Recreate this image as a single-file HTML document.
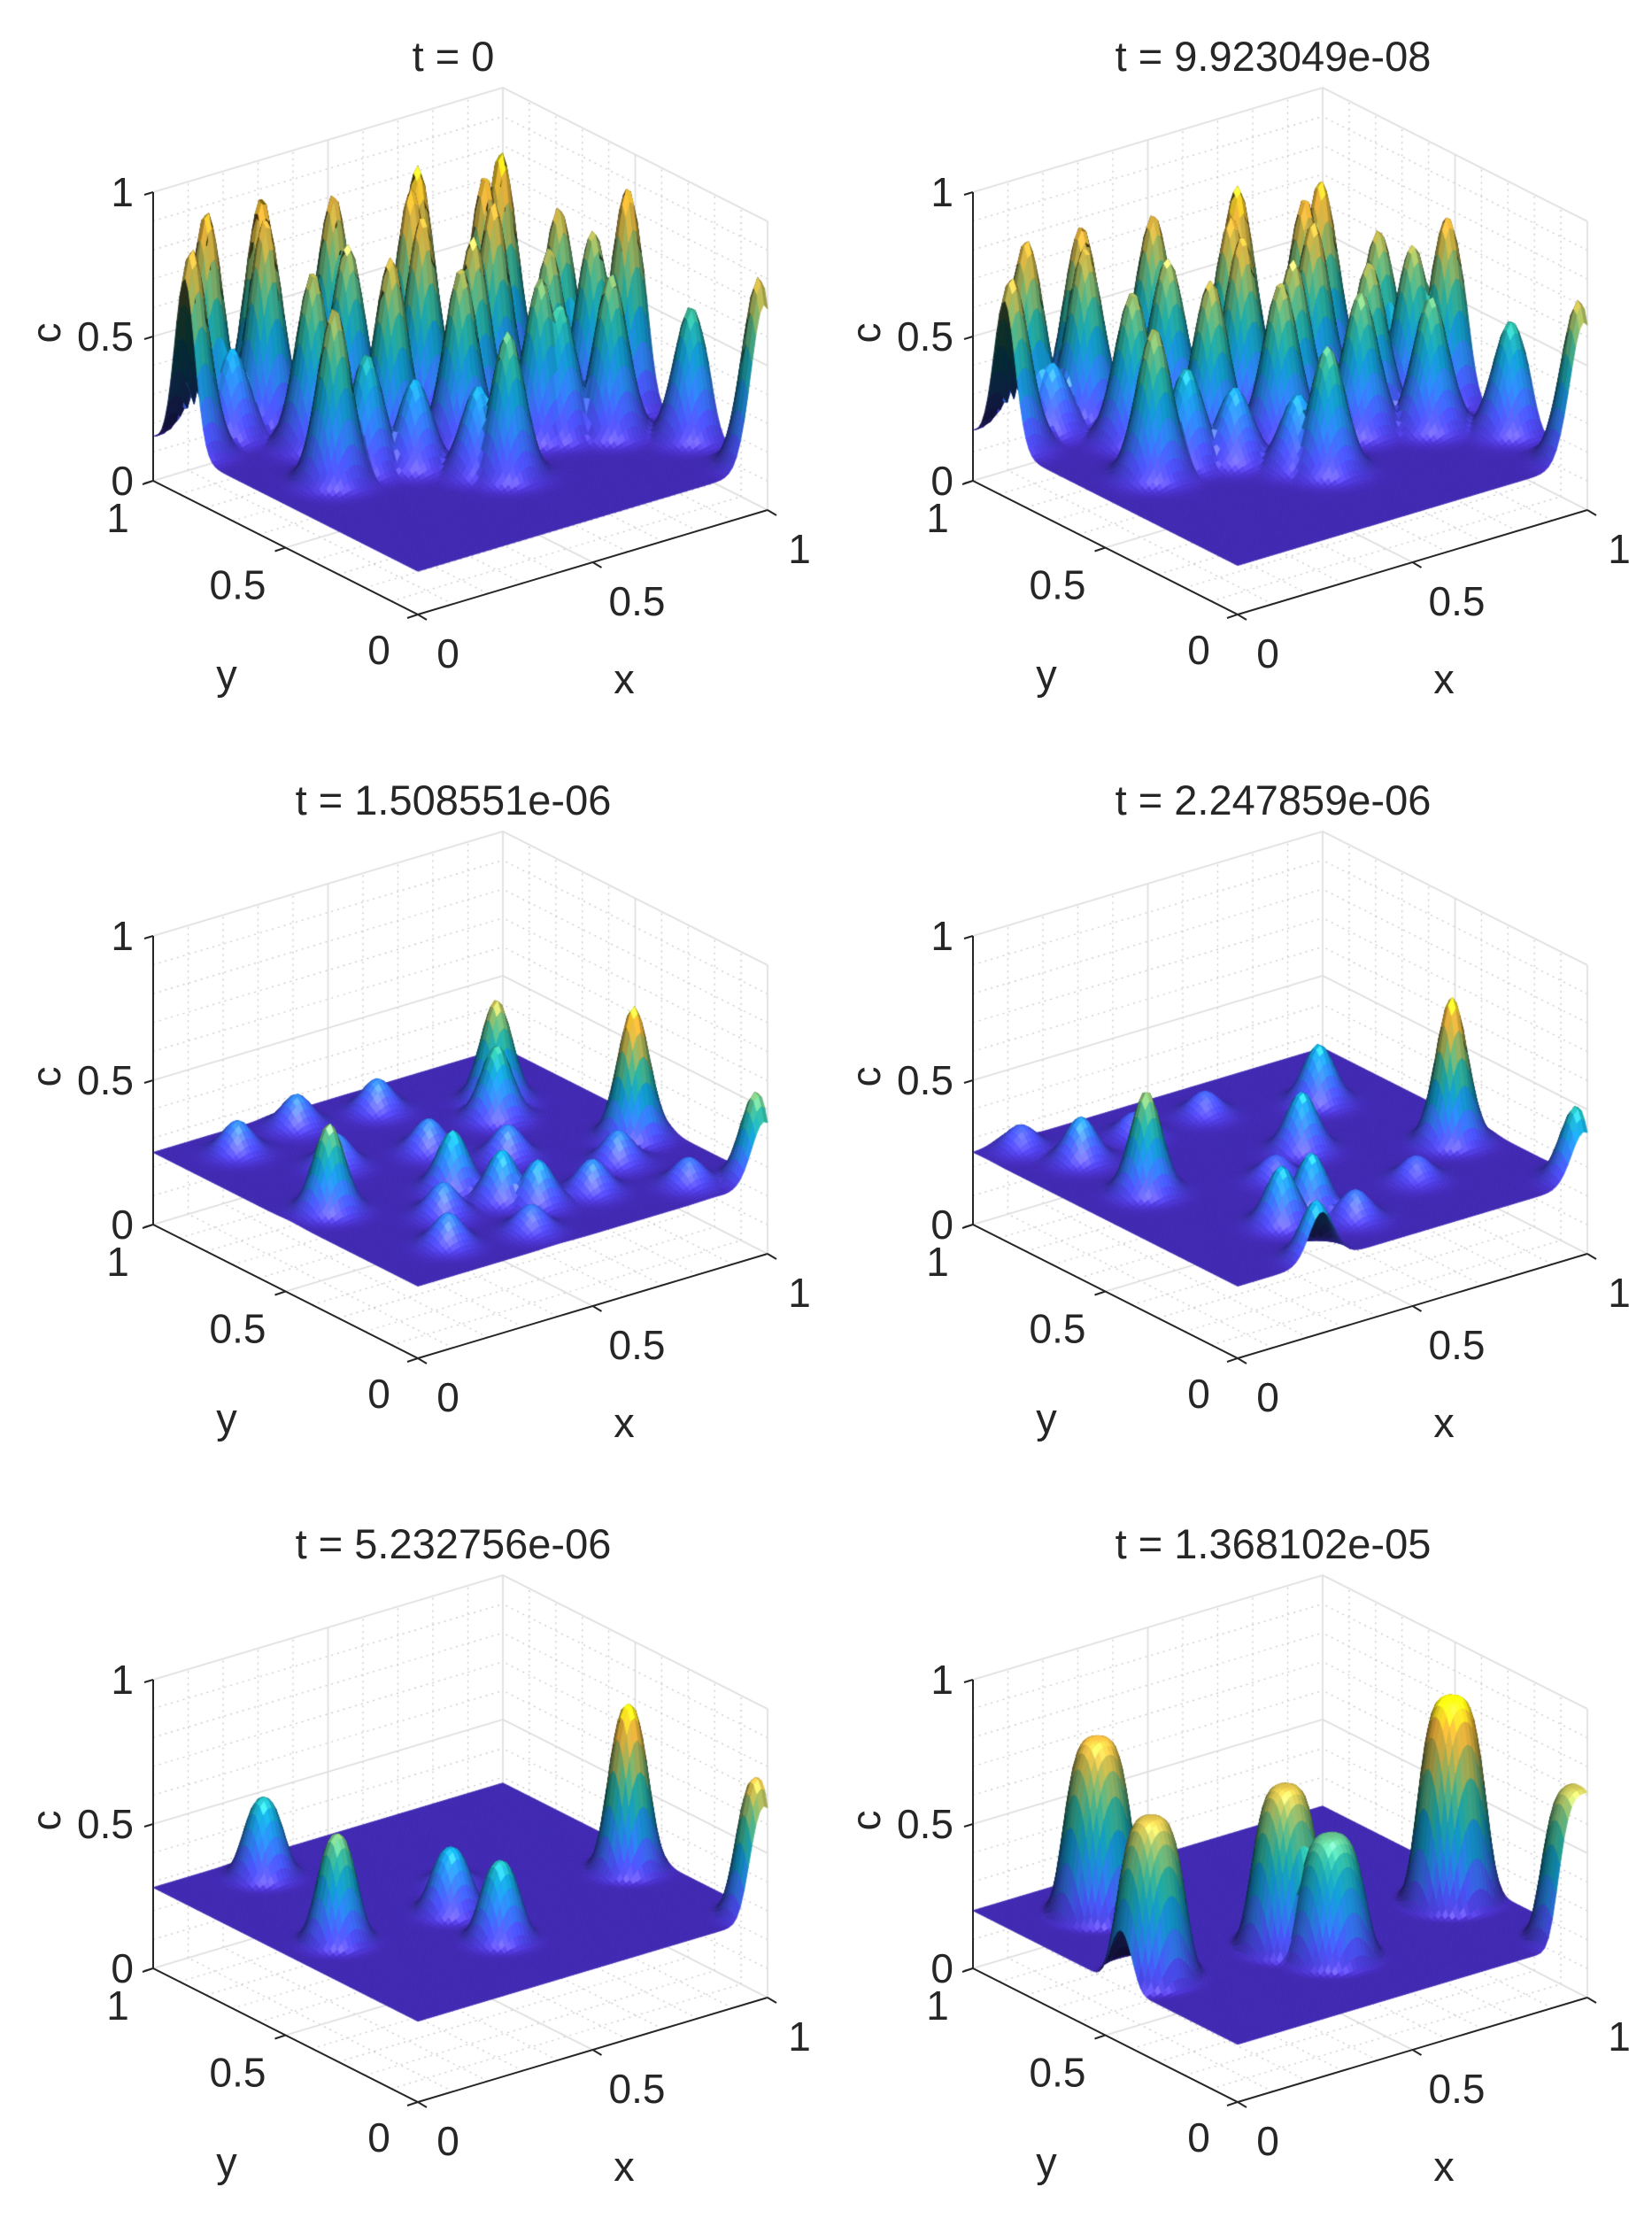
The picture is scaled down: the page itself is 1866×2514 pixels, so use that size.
<!DOCTYPE html>
<html><head><meta charset="utf-8">
<style>
html,body{margin:0;padding:0;background:#fff;}
#wrap{position:relative;width:1866px;height:2514px;overflow:hidden;}
canvas{position:absolute;left:0;top:0;}
svg{position:absolute;left:0;top:0;}
text{font-family:"Liberation Sans",sans-serif;fill:#262626;}
</style></head>
<body>
<div id="wrap">
<canvas id="cv" width="1866" height="2514"></canvas>
<svg id="sv" width="1866" height="2514" xmlns="http://www.w3.org/2000/svg"></svg>
</div>
<script>
// ---- data ----
const titles = ["t = 0","t = 9.923049e-08","t = 1.508551e-06","t = 2.247859e-06","t = 5.232756e-06","t = 1.368102e-05"];
const zTicks = [0,0.5,1];
const xTicks = [0,0.5,1];
const yTicks = [0,0.5,1];
const tickLabels = ["0","0.5","1"];
const bases = [0.15,0.17,0.25,0.25,0.28,0.2];
const sigmas = [0.038,0.04,0.036,0.036,0.04,0.06];
const shapePow = [1,1,1,1,1.3,2];

const p1X=[0.13,0.02,0.15,0.28,0.26,0.47,0.26,0.42,0.62,0.58,0.55,0.40,0.17,0.27,0.37,0.76,0.82,0.73,0.62,0.54,0.50,0.46,0.88,0.77,0.70,0.74,0.91,0.84,0.97,0.97,0.99];
const p1Y=[0.97,0.88,0.90,0.96,0.92,0.94,0.74,0.82,0.82,0.79,0.71,0.63,0.54,0.55,0.50,0.75,0.77,0.68,0.61,0.55,0.32,0.38,0.63,0.52,0.46,0.44,0.54,0.38,0.49,0.25,0.02];
const p1H=[0.90,0.85,0.45,0.90,0.85,0.85,0.75,0.75,0.95,0.90,0.85,0.80,0.75,0.55,0.45,0.90,0.95,0.85,0.80,0.75,0.65,0.45,0.80,0.75,0.70,0.60,0.75,0.70,0.90,0.60,0.80];

const p2X=[0.13,0.02,0.15,0.28,0.26,0.47,0.26,0.42,0.62,0.58,0.55,0.40,0.17,0.27,0.37,0.76,0.82,0.73,0.62,0.54,0.50,0.46,0.88,0.77,0.70,0.91,0.84,0.97,0.97,0.99];
const p2Y=[0.97,0.88,0.90,0.96,0.92,0.94,0.74,0.82,0.82,0.79,0.71,0.63,0.54,0.55,0.50,0.75,0.77,0.68,0.61,0.55,0.32,0.38,0.63,0.52,0.46,0.54,0.38,0.49,0.25,0.02];
const p2H=[0.80,0.75,0.40,0.80,0.75,0.78,0.68,0.70,0.88,0.80,0.78,0.72,0.68,0.50,0.42,0.82,0.85,0.78,0.72,0.70,0.60,0.42,0.72,0.70,0.65,0.70,0.62,0.80,0.55,0.72];

const p3X=[0.92,0.80,0.74,0.11,0.41,0.46,0.51,0.99,0.15,0.35,0.55,0.28,0.50,0.62,0.30,0.20,0.65,0.80,0.85,0.40];
const p3Y=[0.40,0.76,0.68,0.48,0.41,0.29,0.22,0.03,0.88,0.92,0.88,0.68,0.62,0.48,0.30,0.15,0.20,0.30,0.10,0.10];
const p3H=[0.70,0.60,0.50,0.55,0.45,0.42,0.40,0.55,0.36,0.36,0.36,0.36,0.36,0.36,0.36,0.36,0.36,0.36,0.34,0.34];

const p4X=[0.90,0.80,0.17,0.165,0.30,0.40,0.24,0.45,0.60,0.99,0.10,0.35,0.55,0.45,0.70];
const p4Y=[0.38,0.75,0.57,0.81,0.23,0.25,0.02,0.15,0.55,0.03,0.95,0.85,0.85,0.45,0.25];
const p4H=[0.75,0.45,0.60,0.40,0.45,0.45,0.45,0.35,0.45,0.50,0.33,0.33,0.33,0.33,0.33];

const p5X=[0.92,0.24,0.14,0.45,0.44,0.99,0.55];
const p5Y=[0.42,0.90,0.49,0.47,0.27,0.03,0.60];
const p5H=[0.85,0.55,0.65,0.50,0.55,0.75,0.33];

const p6X=[0.22,0.086,0.44,0.48,0.90,0.99];
const p6Y=[0.82,0.44,0.40,0.28,0.38,0.03];
const p6H=[0.80,0.75,0.75,0.62,0.90,0.72];

const peaksX=[p1X,p2X,p3X,p4X,p5X,p6X];
const peaksY=[p1Y,p2Y,p3Y,p4Y,p5Y,p6Y];
const peaksH=[p1H,p2H,p3H,p4H,p5H,p6H];

// ---- geometry ----
const EX=[395,-118], EY=[-299,-151], EZ=[0,-326];
const COL=926, ROW=840, O0=[472,694];
function origin(k){return [O0[0]+(k%2)*COL, O0[1]+Math.floor(k/2)*ROW];}
function proj(k,x,y,z){const o=origin(k);return [o[0]+EX[0]*x+EY[0]*y+EZ[0]*z, o[1]+EX[1]*x+EY[1]*y+EZ[1]*z];}

const parula=[[0.2422,0.1504,0.6603],[0.2810,0.3228,0.9579],[0.1786,0.5289,0.9682],[0.0689,0.6279,0.8376],[0.1540,0.7106,0.6535],[0.4420,0.7481,0.5033],[0.7752,0.7226,0.3033],[0.9906,0.7445,0.2394],[0.9763,0.9831,0.0538]];
function cmap(t){t=Math.max(0,Math.min(1,t))*(parula.length-1);const i=Math.min(parula.length-2,Math.floor(t)),f=t-i;const a=parula[i],b=parula[i+1];return [a[0]+(b[0]-a[0])*f,a[1]+(b[1]-a[1])*f,a[2]+(b[2]-a[2])*f];}

function zfun(k,x,y){
  const b=bases[k],s=sigmas[k],p=shapePow[k];
  let m=0;const X=peaksX[k],Y=peaksY[k],H=peaksH[k];
  for(let i=0;i<X.length;i++){
    const r2=((x-X[i])**2+(y-Y[i])**2)/(2*s*s);
    const g=(H[i]-b)*Math.exp(-Math.pow(r2,p));
    if(g>m)m=g;
  }
  return Math.min(1,b+m);
}

const cv=document.getElementById('cv');const ctx=cv.getContext('2d');
const NS="http://www.w3.org/2000/svg";const sv=document.getElementById('sv');

function line(k,a,b,color,w,dash){const p=proj(k,...a),q=proj(k,...b);ctx.beginPath();ctx.strokeStyle=color;ctx.lineWidth=w;ctx.setLineDash(dash||[]);ctx.moveTo(p[0],p[1]);ctx.lineTo(q[0],q[1]);ctx.stroke();}

function drawGrid(k){
  for(let i=1;i<10;i++){
    const v=i/10;if(i===5)continue;
    const c='#c4c4c4',d=[2,5];
    line(k,[v,1,0],[v,1,1],c,1.2,d);line(k,[0,1,v],[1,1,v],c,1.2,d);
    line(k,[1,v,0],[1,v,1],c,1.2,d);line(k,[1,0,v],[1,1,v],c,1.2,d);
    line(k,[v,0,0],[v,1,0],c,1.2,d);line(k,[0,v,0],[1,v,0],c,1.2,d);
  }
  const g='#dcdcdc';
  line(k,[0.5,1,0],[0.5,1,1],g,1.6);line(k,[0,1,0.5],[1,1,0.5],g,1.6);
  line(k,[1,0.5,0],[1,0.5,1],g,1.6);line(k,[1,0,0.5],[1,1,0.5],g,1.6);
  line(k,[0.5,0,0],[0.5,1,0],g,1.6);line(k,[0,0.5,0],[1,0.5,0],g,1.6);
  line(k,[0,1,1],[1,1,1],g,1.6);line(k,[1,1,1],[1,0,1],g,1.6);line(k,[1,1,0],[1,1,1],g,1.6);
  line(k,[1,0,0],[1,0,1],g,1.6);line(k,[1,1,0],[1,0,0],g,1.6);line(k,[0,1,0],[1,1,0],g,1.6);
}

function drawSurface(k){
  const N=90;const Z=[];let mn=1e9,mx=-1e9;
  for(let i=0;i<=N;i++){Z.push([]);for(let j=0;j<=N;j++){const z=zfun(k,i/N,j/N);Z[i].push(z);if(z<mn)mn=z;if(z>mx)mx=z;}}
  const quads=[];
  for(let i=0;i<N;i++)for(let j=0;j<N;j++){
    const zc=(Z[i][j]+Z[i+1][j]+Z[i][j+1]+Z[i+1][j+1])/4;
    const x=(i+.5)/N,y=(j+.5)/N;
    quads.push([i,j,299*x+395*y-291*zc,zc]);
  }
  quads.sort((a,b)=>b[2]-a[2]);
  let L=[-0.3,-0.5,0.8];let l=Math.hypot(...L);L=L.map(v=>v/l);
  let V=[-299,-395,291];l=Math.hypot(...V);V=V.map(v=>v/l);
  let Hh=[L[0]+V[0],L[1]+V[1],L[2]+V[2]];l=Math.hypot(...Hh);Hh=Hh.map(v=>v/l);
  const h=1/N;
  for(const q of quads){
    const i=q[0],j=q[1];
    const dzx=((Z[i+1][j]+Z[i+1][j+1])-(Z[i][j]+Z[i][j+1]))/(2*h);
    const dzy=((Z[i][j+1]+Z[i+1][j+1])-(Z[i][j]+Z[i+1][j]))/(2*h);
    let n=[-dzx*0.6,-dzy*0.6,1];l=Math.hypot(...n);n=n.map(v=>v/l);
    const ndl=Math.max(0,n[0]*L[0]+n[1]*L[1]+n[2]*L[2]);
    const spec=0.2*Math.pow(Math.max(0,n[0]*Hh[0]+n[1]*Hh[1]+n[2]*Hh[2]),30);
    const c=cmap((q[3]-mn)/(mx-mn||1));
    const sh=0.25+1.0*ndl;
    const col='rgb('+[0,1,2].map(m=>Math.round(255*Math.min(1,c[m]*sh+spec))).join(',')+')';
    const pts=[[i,j],[i+1,j],[i+1,j+1],[i,j+1]].map(p=>proj(k,p[0]/N,p[1]/N,Z[p[0]][p[1]]));
    ctx.beginPath();ctx.moveTo(pts[0][0],pts[0][1]);for(let m=1;m<4;m++)ctx.lineTo(pts[m][0],pts[m][1]);ctx.closePath();
    ctx.fillStyle=col;ctx.fill();ctx.strokeStyle=col;ctx.lineWidth=0.9;ctx.setLineDash([]);ctx.stroke();
  }
}

function svgEl(tag,attrs,parent){const e=document.createElementNS(NS,tag);for(const a in attrs)e.setAttribute(a,attrs[a]);(parent||sv).appendChild(e);return e;}

for(let k=0;k<6;k++){
  drawGrid(k);
  drawSurface(k);
  const g=svgEl('g',{});
  
  
  const o=origin(k);const dx=o[0]-O0[0],dy=o[1]-O0[1];
  const ax=svgEl('path',{d:(()=>{const a=proj(k,0,1,1),b=proj(k,0,1,0),c=proj(k,0,0,0),d=proj(k,1,0,0);return 'M'+a+' L'+b+' L'+c+' L'+d;})(),fill:'none',stroke:'#262626','stroke-width':2},g);
  
  
  let td='';
  zTicks.forEach(v=>{const p=proj(k,0,1,v);td+='M'+p[0]+','+p[1]+' l-10,3 ';});
  yTicks.forEach(v=>{const p=proj(k,0,v,0);td+='M'+p[0]+','+p[1]+' l-12,4 ';});
  xTicks.forEach(v=>{const p=proj(k,v,0,0);td+='M'+p[0]+','+p[1]+' l10,6 ';});
  const tk=svgEl('path',{d:td,fill:'none',stroke:'#262626','stroke-width':2},g);
  
  
  const T=svgEl('text',{x:512+dx,y:80+dy,'font-size':47,'text-anchor':'middle'},g);T.textContent=titles[k];
  
  
  zTicks.forEach((v,i)=>{const p=proj(k,0,1,v);const t=svgEl('text',{x:p[0]-22,y:p[1]+16,'font-size':46,'text-anchor':'end'},g);t.textContent=tickLabels[i];
    
    });
  const yOff=[[-44,56],[-54,58],[-40,58]];
  yTicks.forEach((v,i)=>{const p=proj(k,0,v,0);const t=svgEl('text',{x:p[0]+yOff[i][0],y:p[1]+yOff[i][1],'font-size':46,'text-anchor':'middle'},g);t.textContent=tickLabels[i];
    
    });
  const xOff=[[34,60],[50,60],[36,60]];
  xTicks.forEach((v,i)=>{const p=proj(k,v,0,0);const t=svgEl('text',{x:p[0]+xOff[i][0],y:p[1]+xOff[i][1],'font-size':46,'text-anchor':'middle'},g);t.textContent=tickLabels[i];
    
    });
  const c=svgEl('text',{x:0,y:0,'font-size':46,'text-anchor':'middle',transform:'translate('+(68+dx)+','+(376+dy)+') rotate(-90)'},g);c.textContent='c';
  
  
  const yl=svgEl('text',{x:256+dx,y:778+dy,'font-size':47,'text-anchor':'middle'},g);yl.textContent='y';
  
  
  const xl=svgEl('text',{x:705+dx,y:783+dy,'font-size':47,'text-anchor':'middle'},g);xl.textContent='x';
  
  
}
</script>
</body></html>
